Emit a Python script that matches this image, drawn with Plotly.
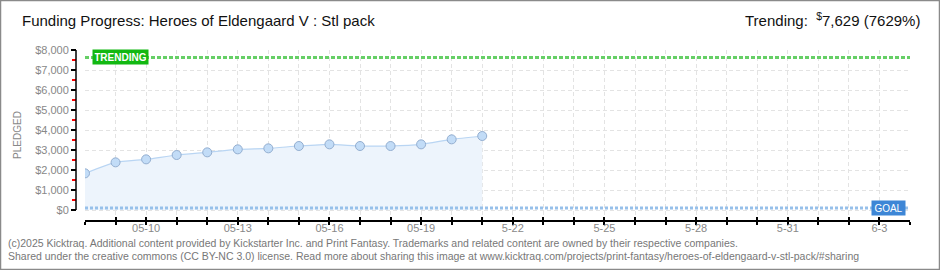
import plotly.graph_objects as go
import pandas as pd

# ---- data ----
dates = pd.date_range("2025-05-08", "2025-05-21", freq="D").strftime("%Y-%m-%d").tolist()
pledged = [1833, 2383, 2533, 2750, 2883, 3033, 3083, 3200, 3283, 3200, 3200, 3283, 3533, 3700]
goal = 100
trending = 7629
tick_dates = pd.date_range("2025-05-08", "2025-06-04", freq="D").strftime("%Y-%m-%d").tolist()
label_map = {"2025-05-10": "05-10", "2025-05-13": "05-13", "2025-05-16": "05-16",
             "2025-05-19": "05-19", "2025-05-22": "5-22", "2025-05-25": "5-25",
             "2025-05-28": "5-28", "2025-05-31": "5-31", "2025-06-03": "6-3"}
tick_text = [label_map.get(d, "") for d in tick_dates]
title = "Funding Progress: Heroes of Eldengaard V : Stl pack"
trend_text = "Trending:  <sup>$</sup>7,629 (7629%)"
footer1 = "(c)2025 Kicktraq. Additional content provided by Kickstarter Inc. and Print Fantasy. Trademarks and related content are owned by their respective companies."
footer2 = "Shared under the creative commons (CC BY-NC 3.0) license. Read more about sharing this image at www.kicktraq.com/projects/print-fantasy/heroes-of-eldengaard-v-stl-pack/#sharing"

W, H = 940, 270
ML, MR, MT, MB = 76, 30, 50, 50
PW = W - ML - MR
PH = H - MT - MB


def px(x):
    return (x - ML) / PW


def py(y):
    return (H - MB - y) / PH


FONT = "Liberation Sans Narrow, Liberation Sans, sans-serif"
GRAY = "#808080"

fig = go.Figure()
fig.add_trace(go.Scatter(
    x=dates, y=pledged, mode="lines+markers",
    line=dict(color="#b9d5f3", width=1.2, shape="spline", smoothing=0.5),
    marker=dict(size=9, color="#c2dcf7", line=dict(color="#93aed0", width=1)),
    fill="tozeroy", fillcolor="#edf4fc", hoverinfo="skip", showlegend=False,
))
# goal and trending lines
fig.add_trace(go.Scatter(x=[tick_dates[0], tick_dates[-1]], y=[goal, goal], mode="lines",
                         line=dict(color="#97c0ea", width=3, dash="3px,2px"),
                         hoverinfo="skip", showlegend=False))
fig.add_trace(go.Scatter(x=[tick_dates[0], tick_dates[-1]], y=[trending, trending], mode="lines",
                         line=dict(color="#66cf66", width=3, dash="4px,2px"),
                         hoverinfo="skip", showlegend=False))
# dummy trace for second x-axis (inside ticks)
fig.add_trace(go.Scatter(x=[tick_dates[0], tick_dates[-1]], y=[0, 0], xaxis="x2", mode="lines",
                         line=dict(width=0), hoverinfo="skip", showlegend=False))

fig.update_layout(
    width=W, height=H, margin=dict(l=ML, r=MR, t=MT, b=MB),
    paper_bgcolor="white", plot_bgcolor="white",
    font=dict(family=FONT, color=GRAY, size=11),
    xaxis=dict(
        domain=[px(85), 1], type="date", range=[tick_dates[0], tick_dates[-1]],
        tickmode="array", tickvals=tick_dates, ticktext=tick_text,
        showgrid=True, gridcolor="#e3e3e3", griddash="4px,3px", gridwidth=1,
        showline=True, linecolor="black", linewidth=1.5,
        ticks="outside", ticklen=3, tickcolor="black", tickwidth=1.5,
        ticklabelstandoff=-6,
        tickfont=dict(size=11, color="#888"), zeroline=False,
    ),
    xaxis2=dict(
        domain=[px(85), 1], type="date", overlaying="x", matches="x", anchor="y",
        tickmode="array", tickvals=tick_dates, showticklabels=False,
        showgrid=False, showline=False, ticks="inside", ticklen=3,
        tickcolor="black", tickwidth=1.5, zeroline=False,
    ),
    yaxis=dict(
        range=[-499, 8000], anchor="free", position=0,
        tickmode="linear", tick0=0, dtick=1000, tickprefix="$", tickformat=",d",
        showgrid=True, gridcolor="#e3e3e3", griddash="4px,3px", gridwidth=1,
        showline=False, zeroline=False,
        ticks="outside", ticklen=5, tickcolor="black", tickwidth=1.5,
        minor=dict(dtick=500, tick0=0, ticks="outside", ticklen=4, tickcolor="red", tickwidth=1.5, showgrid=False),
        tickfont=dict(size=11, color="#888"),
        title=dict(text="PLEDGED", font=dict(size=10, color="#888"), standoff=10),
    ),
)

# y axis line from $0 to $8,000
fig.add_shape(type="line", xref="paper", yref="y", x0=0, x1=0, y0=0, y1=8000,
              line=dict(color="black", width=1.5))
# outer border
fig.add_shape(type="rect", xref="paper", yref="paper",
              x0=px(0.5), x1=px(939.5), y0=py(269.5), y1=py(0.5),
              line=dict(color="#8a8a8a", width=1.5), layer="above")

# labels
fig.add_annotation(xref="paper", yref="y", x=px(120.5), y=trending, text="<b>TRENDING</b>",
                   xanchor="center", yanchor="middle",
                   showarrow=False, bgcolor="#12b812", font=dict(color="white", size=10, family=FONT),
                   borderpad=1.5, width=52)
fig.add_annotation(xref="paper", yref="y", x=px(888), y=goal, text="GOAL",
                   xanchor="center", yanchor="middle",
                   showarrow=False, bgcolor="#3d86d6", font=dict(color="white", size=10, family=FONT),
                   borderpad=1.5, width=30)

fig.add_annotation(xref="paper", yref="paper", x=px(20), y=py(21), text=title, showarrow=False,
                   xanchor="left", yanchor="middle", font=dict(size=15, color="#111", family=FONT))
fig.add_annotation(xref="paper", yref="paper", x=px(922), y=py(20), text=trend_text, showarrow=False,
                   xanchor="right", yanchor="middle", font=dict(size=15, color="#111", family=FONT))
fig.add_annotation(xref="paper", yref="paper", x=px(6), y=py(243), text=footer1, showarrow=False,
                   xanchor="left", yanchor="middle", font=dict(size=10.5, color="#777", family=FONT))
fig.add_annotation(xref="paper", yref="paper", x=px(6), y=py(256), text=footer2, showarrow=False,
                   xanchor="left", yanchor="middle", font=dict(size=10.5, color="#777", family=FONT))

fig.write_html("out.html")
